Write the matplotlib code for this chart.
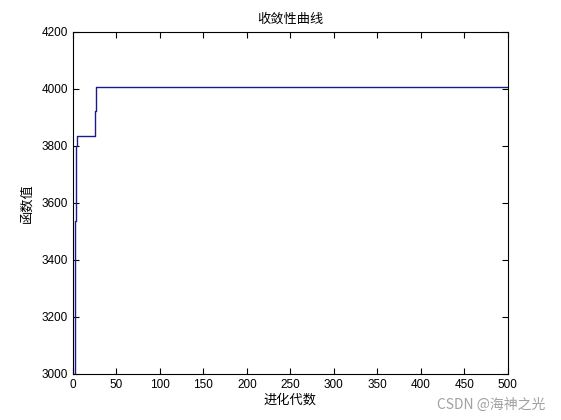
import matplotlib
matplotlib.use("Agg")
import matplotlib.pyplot as plt

# generations where the best value changes, and the value from then on
generations = [1, 2, 3, 4, 5, 25, 26, 500]
best_values = [2900, 3534, 3760, 3800, 3835, 3920, 4005, 4005]

x_ticks = [0, 50, 100, 150, 200, 250, 300, 350, 400, 450, 500]
y_ticks = [3000, 3200, 3400, 3600, 3800, 4000, 4200]

plt.rcParams['font.family'] = ['Noto Sans CJK SC', 'DejaVu Sans']

fig = plt.figure(figsize=(5.61, 4.2), dpi=100)
ax = fig.add_axes([0.13, 0.11, 0.775, 0.815])
ax.plot(generations, best_values, color='#1a1a8c', linewidth=1.0, drawstyle='steps-post')
ax.set_xlim(0, 500)
ax.set_ylim(3000, 4200)
ax.set_xticks(x_ticks)
ax.set_yticks(y_ticks)
ax.tick_params(direction='in', top=True, right=True, length=4, width=0.8, labelsize=8.5)
for lbl in ax.get_xticklabels() + ax.get_yticklabels():
    lbl.set_family(['Liberation Sans', 'DejaVu Sans'])
for s in ax.spines.values():
    s.set_linewidth(0.8)
ax.set_title('收敛性曲线', fontsize=9.5, pad=6)
ax.set_xlabel('进化代数', fontsize=9.5, labelpad=2)
ax.set_ylabel('函数值', fontsize=9.5, labelpad=6)
fig.text(0.972, 0.036, 'CSDN @海神之光', ha='right', va='center', fontsize=10, color='#a0a0a0')
fig.savefig('out.png', dpi=100)
